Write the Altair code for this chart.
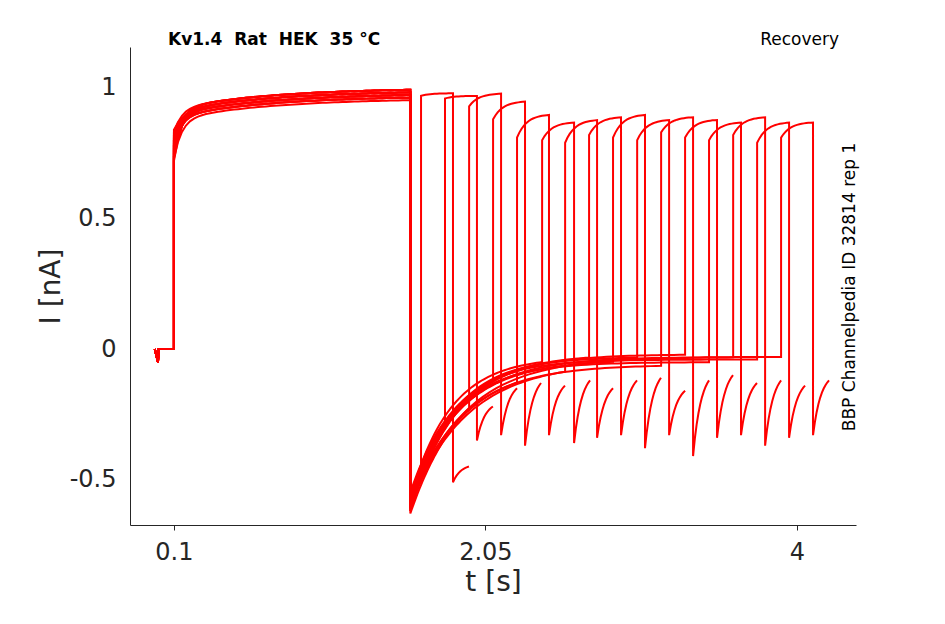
import altair as alt
import pandas as pd
import numpy as np

# per-trace readings (16 sweeps)
jump_1 = [0.72, 0.74, 0.76, 0.78, 0.80, 0.82, 0.84, 0.73, 0.75, 0.77, 0.79, 0.81, 0.83, 0.74, 0.78, 0.80]
plateau_1 = [1.00, 0.99, 0.98, 1.00, 0.97, 0.99, 0.98, 0.96, 1.00, 0.99, 0.97, 0.98, 1.00, 0.99, 0.97, 0.98]
drop_min = [-0.60, -0.58, -0.63, -0.55, -0.61, -0.57, -0.59, -0.62, -0.56, -0.60, -0.58, -0.61, -0.57, -0.59, -0.62, -0.56]
steady = [-0.03, -0.05, -0.02, -0.04, -0.06, -0.03, -0.05, -0.02, -0.04, -0.03, -0.06, -0.02, -0.05, -0.03, -0.04, -0.03]
tau = [0.30, 0.26, 0.34, 0.28, 0.32, 0.25, 0.36, 0.29, 0.31, 0.27, 0.33, 0.30, 0.28, 0.35, 0.26, 0.32]
pulse_start = [1.647, 1.797, 1.948, 2.098, 2.248, 2.405, 2.549, 2.699, 2.849, 3.000, 3.150, 3.300, 3.450, 3.601, 3.751, 3.901]
pulse_len = 0.20
peak_2a = [0.97, 0.96, 0.93, 0.88, 0.81, 0.80, 0.79, 0.82, 0.81, 0.80, 0.83, 0.81, 0.80, 0.82, 0.79, 0.81]
peak_2b = [0.98, 0.97, 0.98, 0.95, 0.90, 0.87, 0.88, 0.89, 0.90, 0.88, 0.89, 0.88, 0.87, 0.89, 0.87, 0.87]
tail_min = [-0.51, -0.35, -0.33, -0.37, -0.33, -0.36, -0.34, -0.33, -0.38, -0.33, -0.41, -0.34, -0.33, -0.37, -0.34, -0.33]
tail_end = [-0.45, -0.22, -0.15, -0.13, -0.14, -0.12, -0.15, -0.12, -0.11, -0.16, -0.12, -0.10, -0.13, -0.12, -0.14, -0.12]

rows = []
for k in range(16):
    pts = [(-0.02, 0.0), (0.0, -0.05), (0.005, 0.0), (0.1, 0.0)]
    for t in np.linspace(0.1, 1.58, 60):
        pts.append((t, plateau_1[k] - 0.08 * np.exp(-(t - 0.1) / 0.6)
                    - (plateau_1[k] - 0.08 - jump_1[k]) * np.exp(-(t - 0.1) / 0.05)))
    s = pulse_start[k]
    for t in np.linspace(1.58, s, 50):
        pts.append((t, steady[k] - (steady[k] - drop_min[k]) * np.exp(-(t - 1.58) / tau[k])))
    e = s + pulse_len
    for t in np.linspace(s, e, 15):
        pts.append((t, peak_2b[k] - (peak_2b[k] - peak_2a[k]) * np.exp(-(t - s) / 0.06)))
    for t in np.linspace(e, e + 0.1, 10):
        f = 1 - np.exp(-(t - e) / 0.05)
        pts.append((t, tail_min[k] + (tail_end[k] - tail_min[k]) * f / (1 - np.exp(-2))))
    for i, (t, v) in enumerate(pts):
        rows.append({"trace": k, "i": i, "t": t, "I": v})
df = pd.DataFrame(rows)

W, H = 726, 478
axis_style = dict(grid=False, labelFontSize=24, titleFontSize=28, titleFontWeight="normal",
                  labelColor="#262626", titleColor="#262626", domainColor="#262626",
                  tickColor="#262626", labelFont="DejaVu Sans", titleFont="DejaVu Sans",
                  labelExpr="'' + datum.value")
lines = alt.Chart(df).mark_line(color="red", strokeWidth=2, clip=True).encode(
    x=alt.X("t:Q", title="t [s]", scale=alt.Scale(domain=[-0.175, 4.37], nice=False, zero=False),
            axis=alt.Axis(values=[0.1, 2.05, 4], tickSize=5, labelPadding=10, **axis_style)),
    y=alt.Y("I:Q", title="I [nA]", scale=alt.Scale(domain=[-0.674, 1.157], nice=False, zero=False),
            axis=alt.Axis(values=[1, 0.5, 0, -0.5], tickSize=0, labelPadding=14, **axis_style)),
    detail="trace:N",
    order="i:Q",
)

one = pd.DataFrame({"a": [0]})
title = alt.Chart(one).mark_text(
    text="Kv1.4\u00a0\u00a0Rat\u00a0\u00a0HEK\u00a0\u00a035 °C", fontWeight="bold", fontSize=17,
    align="left", font="DejaVu Sans", color="black"
).encode(x=alt.value(38), y=alt.value(-7))
rec = alt.Chart(one).mark_text(
    text="Recovery", fontSize=17, align="right", font="DejaVu Sans", color="black"
).encode(x=alt.value(709), y=alt.value(-7))
side = alt.Chart(one).mark_text(
    text="BBP Channelpedia ID 32814 rep 1", fontSize=17, angle=270, align="center",
    font="DejaVu Sans", color="black"
).encode(x=alt.value(720), y=alt.value(240))

chart = alt.layer(lines, title, rec, side).properties(
    width=W, height=H,
    autosize=alt.AutoSizeParams(type="none"),
    padding={"left": 122, "top": 39, "right": 60, "bottom": 80},
).configure_view(stroke=None)

chart.save("out.html", embed_options={"renderer": "svg", "actions": False})
